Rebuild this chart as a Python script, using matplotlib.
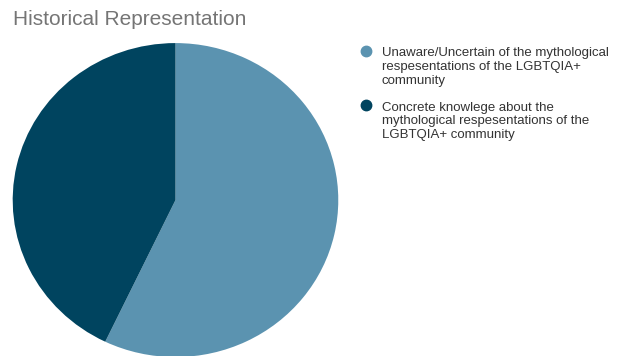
import matplotlib.pyplot as plt
from matplotlib.lines import Line2D

plt.rcParams['font.family'] = ['Liberation Sans', 'DejaVu Sans']

# Survey answers (share of respondents)
labels = ['Unaware/Uncertain of the mythological\nrespesentations of the LGBTQIA+\ncommunity',
          'Concrete knowlege about the\nmythological respesentations of the\nLGBTQIA+ community']
shares = [57.1, 42.9]
colors = ['#5b93b0', '#00445f']

W, H = 619, 356
fig = plt.figure(figsize=(W / 100, H / 100), dpi=100)
ax = fig.add_axes([0.0205, -0.003, 0.526, 0.882])

ax.pie(shares, colors=colors, startangle=90, counterclock=False,
       wedgeprops={'linewidth': 0})
ax.set_aspect('auto')
ax.set_xlim(-1, 1)
ax.set_ylim(-1, 1)
ax.axis('off')

fig.text(13 / W, 1 - 25 / H, 'Historical Representation', fontsize=15, color='#757575',
         ha='left', va='baseline')

# legend drawn by hand so the dot sits beside the first line of each entry
entry_tops = [47, 101.5]
dot_y = [51, 105]
for lab, col, top, dy in zip(labels, colors, entry_tops, dot_y):
    fig.add_artist(Line2D([366 / W], [1 - dy / H], transform=fig.transFigure,
                          marker='o', markersize=7.5, color=col, linestyle=''))
    fig.text(382 / W, 1 - top / H, lab, fontsize=9.5, color='#333333',
             ha='left', va='top', linespacing=1.2)

fig.savefig('out.png', dpi=100)
